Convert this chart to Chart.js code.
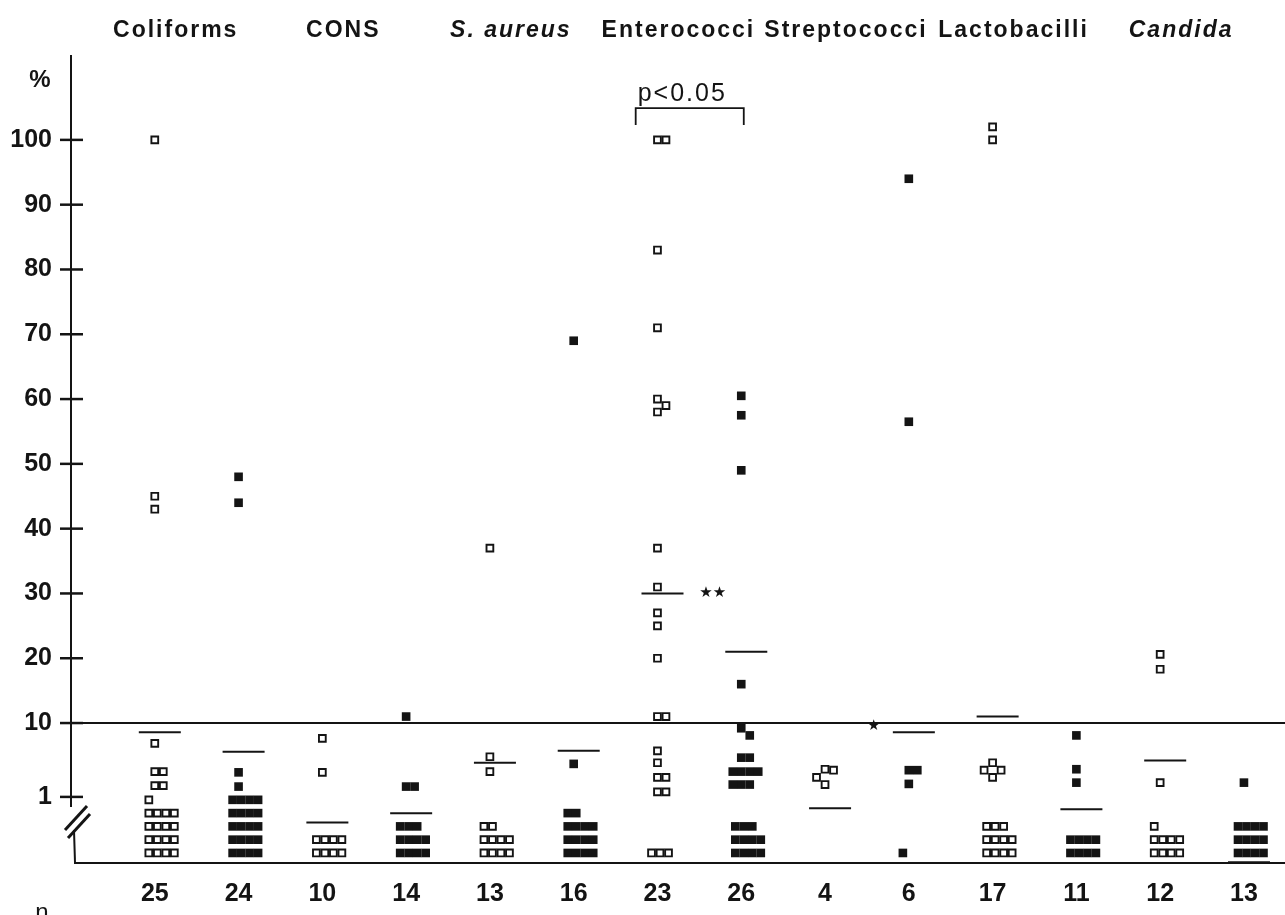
<!DOCTYPE html>
<html>
<head>
<meta charset="utf-8">
<script src="https://cdn.jsdelivr.net/npm/chart.js@4.4.1/dist/chart.umd.min.js"></script>
<style>
  html, body { margin: 0; padding: 0; background: #fff; }
</style>
</head>
<body>
<canvas id="chart" width="1285" height="915"></canvas>
<script>
// organisms, two columns each (open squares, filled squares)
const organisms = ['Coliforms', 'CONS', 'S. aureus', 'Enterococci', 'Streptococci', 'Lactobacilli', 'Candida'];
const italicNames = [false, false, true, false, false, false, true];

const openN = [25, 10, 13, 23, 4, 17, 12];
const filledN = [24, 14, 16, 26, 6, 11, 13];

// values above the detection limit (%)
const openValues = [
  [100, 45, 43, 5.3, 2.2, 2.2, 1.42, 1.42],
  [6.2, 2.15],
  [37, 3.5, 2.2],
  [100, 100, 83, 71, 60, 59, 58, 37, 31, 27, 25, 20, 11, 11, 4.2, 2.9, 1.84, 1.84, 1.17, 1.17],
  [2.37, 2.3, 1.84, 1.47],
  [102, 100, 2.9, 2.3, 2.3, 1.84],
  [20.6, 18.3, 1.56]
];
const filledValues = [
  [48, 44, 2.15, 1.38],
  [11, 1.38, 1.38],
  [69, 2.8],
  [60.5, 57.5, 49, 16, 8.5, 6.8, 3.4, 3.4, 2.2, 2.2, 2.2, 2.2, 1.47, 1.47, 1.47],
  [94, 56.5, 2.3, 2.3, 1.5],
  [6.8, 2.37, 1.56],
  [1.56]
];

// number of samples below 1 % (stacked under the axis break)
const openBelow = [17, 8, 10, 3, 0, 11, 9];
const filledBelow = [20, 11, 14, 11, 1, 8, 12];

// horizontal bars (mean)
const openMean = [7.5, 0.45, 2.9, 30, 0.7, 11, 3.1];
const filledMean = [4.1, 0.6, 4.2, 21, 7.5, 0.68, 0.13];

const yTickValues = [1, 10, 20, 30, 40, 50, 60, 70, 80, 90, 100];

const INK = '#141414';
const FONT = '"Liberation Sans", Arial, sans-serif';

// axis: linear above 10, one log decade between 1 and 10
const LOG_SPAN = 11.4;
const toAxis = v => v >= 10 ? v : 10 - LOG_SPAN * Math.log10(10 / v);

const X_MIN = -1.0, X_MAX = 13.49, Y_MIN = -11.6, Y_MAX = 113.1;
const STEP_X = 0.1014;   // one square in x units
const HIT_Y = 1.35;      // squares closer than this overlap
const GRID_BASE = -10.05, GRID_STEP = 2.05;
const OFFSETS = [0, 1, -1, 2, -2, 3, -3];

function columnPoints(values, below, col) {
  const placed = [];
  values.forEach(v => {
    const u = toAxis(v);
    const off = OFFSETS.find(o => !placed.some(p => p.o === o && Math.abs(p.u - u) < HIT_Y));
    placed.push({ o: off, u: u });
  });
  const pts = placed.map(p => ({ x: col + p.o * STEP_X, y: p.u }));
  for (let j = 0; j < below; j++) {
    pts.push({ x: col + (j % 4 - 0.7) * STEP_X, y: GRID_BASE + Math.floor(j / 4) * GRID_STEP });
  }
  return pts;
}

const openPts = organisms.flatMap((_, k) => columnPoints(openValues[k], openBelow[k], 2 * k));
const filledPts = organisms.flatMap((_, k) => columnPoints(filledValues[k], filledBelow[k], 2 * k + 1));
const meanPts = organisms.flatMap((_, k) => [
  { x: 2 * k + 0.06, y: toAxis(openMean[k]) },
  { x: 2 * k + 1.06, y: toAxis(filledMean[k]) }
]);
const nLabels = openN.flatMap((n, k) => [n, filledN[k]]);

const decor = {
  id: 'decor',
  beforeDatasetsDraw(chart) {
    const { ctx, chartArea: a, scales: { x, y } } = chart;
    const line = (x1, y1, x2, y2) => { ctx.beginPath(); ctx.moveTo(x1, y1); ctx.lineTo(x2, y2); ctx.stroke(); };
    ctx.save();
    ctx.strokeStyle = INK;
    ctx.fillStyle = INK;
    ctx.lineCap = 'butt';

    const y1 = y.getPixelForValue(toAxis(1));
    const y10 = y.getPixelForValue(10);
    // y axis with break
    ctx.lineWidth = 2;
    line(a.left, a.top, a.left, y1 + 10);
    line(a.left + 3, y1 + 33, a.left + 4, a.bottom);
    ctx.lineWidth = 3;
    line(a.left - 6, y1 + 33, a.left + 16, y1 + 9);
    line(a.left - 3, y1 + 41, a.left + 19, y1 + 17);
    // ticks
    ctx.lineWidth = 2.5;
    yTickValues.forEach(v => {
      const py = y.getPixelForValue(toAxis(v));
      line(a.left - 11, py, a.left + 12, py);
    });
    // 10 % line and bottom line
    ctx.lineWidth = 2;
    line(a.left, y10, a.right, y10);
    line(a.left + 3, a.bottom, a.right, a.bottom);

    // organism names
    ctx.textAlign = 'center';
    ctx.textBaseline = 'middle';
    ctx.letterSpacing = '2px';
    organisms.forEach((name, k) => {
      ctx.font = (italicNames[k] ? 'italic ' : '') + 'bold 23px ' + FONT;
      ctx.fillText(name, x.getPixelForValue(2 * k + 0.25), 31);
    });
    ctx.letterSpacing = '0px';

    // axis captions
    ctx.font = 'bold 24px ' + FONT;
    ctx.fillText('%', 40, 80);
    ctx.font = '24px ' + FONT;
    ctx.textBaseline = 'top';
    ctx.fillText('n', 42, 901);

    // significance bracket
    const bl = x.getPixelForValue(5.74), br = x.getPixelForValue(7.03);
    const by = y.getPixelForValue(104.9), bd = y.getPixelForValue(102.3);
    ctx.lineWidth = 1.8;
    ctx.beginPath();
    ctx.moveTo(bl, bd); ctx.lineTo(bl, by); ctx.lineTo(br, by); ctx.lineTo(br, bd);
    ctx.stroke();
    ctx.textAlign = 'left';
    ctx.textBaseline = 'alphabetic';
    ctx.font = '25px ' + FONT;
    ctx.letterSpacing = '2px';
    ctx.fillText('p<0.05', bl + 2, by - 7);
    ctx.letterSpacing = '0px';

    // stars
    ctx.textAlign = 'center';
    ctx.textBaseline = 'middle';
    ctx.font = '15px "DejaVu Sans"';
    ctx.fillText('★★', x.getPixelForValue(6.66), y.getPixelForValue(openMean[3]));
    ctx.fillText('★', x.getPixelForValue(8.58), y.getPixelForValue(9.6));
    ctx.restore();
  }
};

new Chart(document.getElementById('chart'), {
  type: 'scatter',
  data: {
    datasets: [
      {
        label: 'open',
        data: openPts,
        pointStyle: 'rect',
        pointRadius: 4.8,
        backgroundColor: '#fff',
        borderColor: INK,
        borderWidth: 1.9,
        clip: false
      },
      {
        label: 'filled',
        data: filledPts,
        pointStyle: 'rect',
        pointRadius: 6.1,
        backgroundColor: INK,
        borderColor: INK,
        borderWidth: 0,
        clip: false
      },
      {
        label: 'mean',
        data: meanPts,
        pointStyle: 'line',
        pointRadius: 21,
        borderColor: INK,
        borderWidth: 2,
        clip: false
      }
    ]
  },
  options: {
    responsive: false,
    animation: false,
    layout: { autoPadding: false, padding: { top: 55, left: 0, right: 0, bottom: 0 } },
    plugins: { legend: { display: false }, tooltip: { enabled: false } },
    scales: {
      x: {
        type: 'linear',
        min: X_MIN,
        max: X_MAX,
        grid: { display: false, drawTicks: false },
        border: { display: false },
        afterBuildTicks: s => { s.ticks = nLabels.map((_, i) => ({ value: i })); },
        afterFit: s => { s.height = 52; s.paddingLeft = 0; s.paddingRight = 0; },
        ticks: {
          autoSkip: false,
          maxRotation: 0,
          padding: 16,
          color: INK,
          font: { family: FONT, size: 25, weight: 'bold' },
          callback: (v, i) => nLabels[i]
        }
      },
      y: {
        type: 'linear',
        min: Y_MIN,
        max: Y_MAX,
        grid: { display: false, drawTicks: false },
        border: { display: false },
        afterBuildTicks: s => { s.ticks = yTickValues.map(v => ({ value: toAxis(v) })); },
        afterFit: s => { s.width = 71; s.paddingTop = 0; s.paddingBottom = 0; },
        ticks: {
          autoSkip: false,
          padding: 19,
          color: INK,
          font: { family: FONT, size: 25, weight: 'bold' },
          callback: (v, i) => yTickValues[i]
        }
      }
    }
  },
  plugins: [decor]
});
</script>
</body>
</html>
